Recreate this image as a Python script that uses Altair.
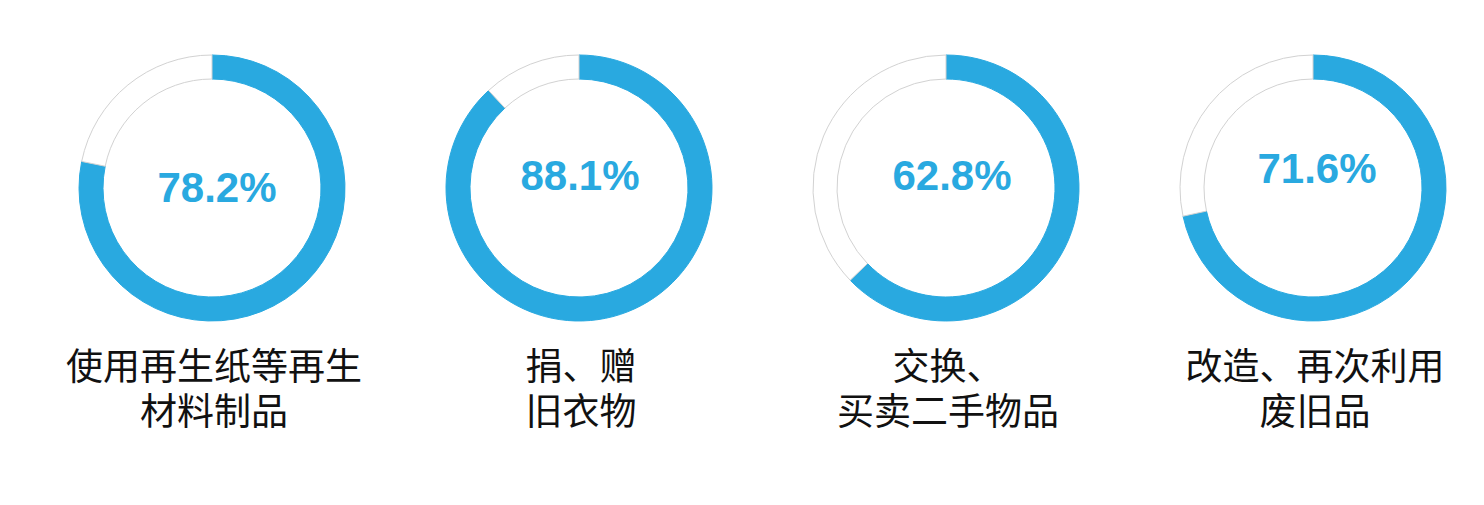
import altair as alt
import pandas as pd

label_line1 = ["使用再生纸等再生", "捐、赠", "交换、", "改造、再次利用"]
label_line2 = ["材料制品", "旧衣物", "买卖二手物品", "废旧品"]
percents = [78.2, 88.1, 62.8, 71.6]
pct_text = ["78.2%", "88.1%", "62.8%", "71.6%"]

BLUE = "#29a9e0"
PANEL_W = 320
PANEL_H = 460
CX = PANEL_W / 2
CY = 180
text_dx = [5, 1, 6, 4]
text_y = [181, 169, 169, 162]
LABEL_FONT = "Liberation Sans, 'Noto Sans CJK SC'"

panels = []
for i in range(len(percents)):
    v = percents[i]
    df = pd.DataFrame({"part": ["yes", "no"], "value": [v, 100 - v], "ord": [0, 1]})
    arc = alt.Chart(df).mark_arc(innerRadius=109, outerRadius=133, strokeWidth=1).encode(
        theta=alt.Theta("value:Q", stack=True),
        color=alt.Color("part:N", scale=alt.Scale(domain=["yes", "no"], range=[BLUE, "#ffffff"]), legend=None),
        stroke=alt.Stroke("part:N", scale=alt.Scale(domain=["yes", "no"], range=[BLUE, "#d2d2d2"]), legend=None),
        order=alt.Order("ord:Q"),
        x=alt.value(CX),
        y=alt.value(CY),
    )
    tdf = pd.DataFrame({"t": [pct_text[i]], "l1": [label_line1[i]], "l2": [label_line2[i]]})
    pct = alt.Chart(tdf).mark_text(
        font="Liberation Sans", fontSize=42, fontWeight="bold", color=BLUE,
        align="center", baseline="middle",
    ).encode(text="t:N", x=alt.value(CX + text_dx[i]), y=alt.value(text_y[i]))
    l1 = alt.Chart(tdf).mark_text(
        font=LABEL_FONT, fontSize=37, color="#111111",
        align="center", baseline="middle",
    ).encode(text="l1:N", x=alt.value(CX + 2), y=alt.value(361))
    l2 = alt.Chart(tdf).mark_text(
        font=LABEL_FONT, fontSize=37, color="#111111",
        align="center", baseline="middle",
    ).encode(text="l2:N", x=alt.value(CX + 2), y=alt.value(406))
    panels.append(alt.layer(arc, pct, l1, l2).properties(width=PANEL_W, height=PANEL_H))

chart = alt.hconcat(*panels, spacing=367 - PANEL_W).properties(
    padding={"left": 212 - 8 - CX, "top": 0, "right": 0, "bottom": 0}
).configure_view(stroke=None)

chart.save("out.html", embed_options={"renderer": "svg", "actions": False})
